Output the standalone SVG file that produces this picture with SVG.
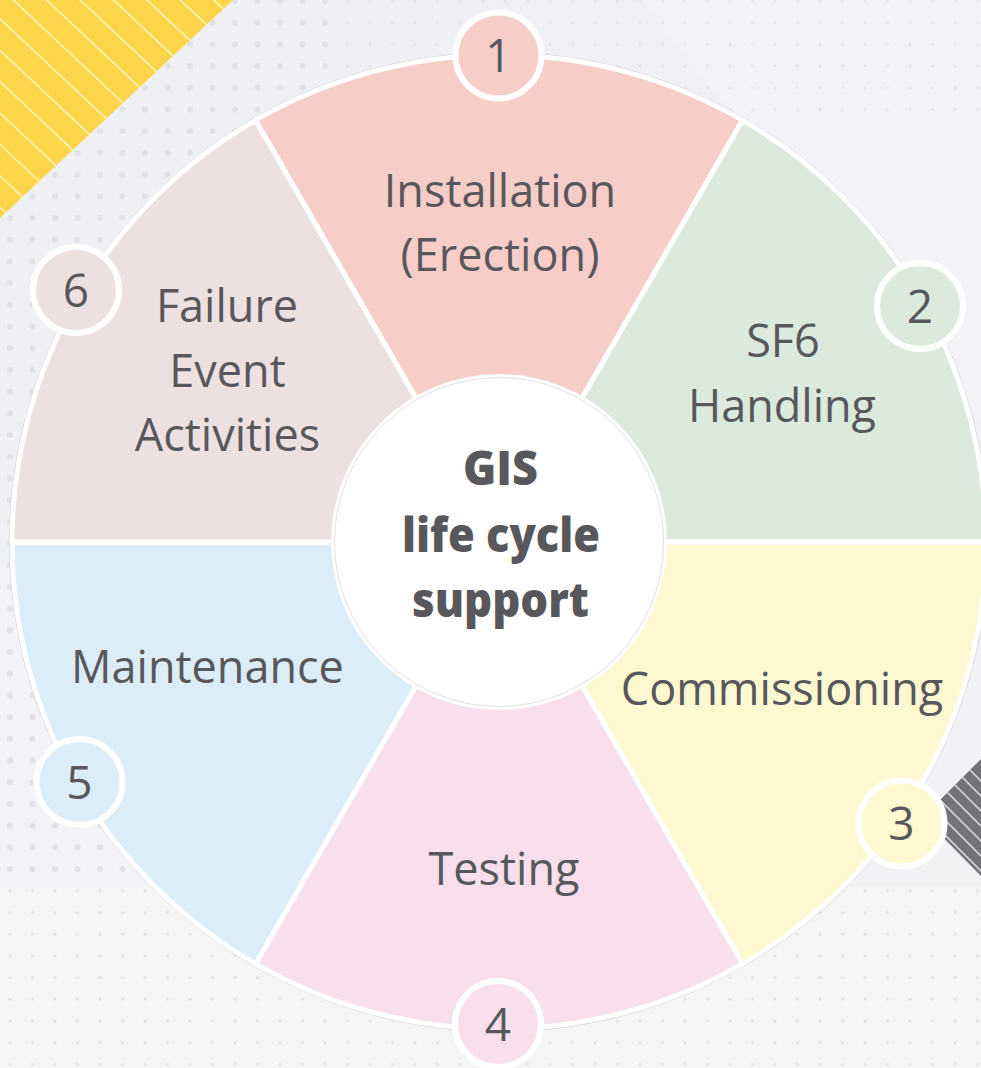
<svg xmlns="http://www.w3.org/2000/svg" width="981" height="1068" viewBox="0 0 981 1068">
  <defs>
    <style>
      .lbl{font-family:"Open Sans","DejaVu Sans",sans-serif;font-size:45px;fill:#58585c;text-anchor:middle;}
      .num{font-family:"Open Sans","DejaVu Sans",sans-serif;font-size:46px;fill:#58585c;text-anchor:middle;}
      .ctr{font-family:"Open Sans","DejaVu Sans",sans-serif;font-size:48px;font-weight:800;fill:#58585c;text-anchor:middle;}
      .sec{stroke:#ffffff;stroke-width:5;stroke-linejoin:round;}
      .badge{stroke:#ffffff;stroke-width:6;}
      .ystripe{stroke:#fff3b8;stroke-width:1.6;}
      .gstripe{stroke:#cfcfd4;stroke-width:1.6;}
    </style>
    <pattern id="dots" x="10" y="1" width="22.5" height="21.7" patternUnits="userSpaceOnUse">
      <circle cx="0" cy="0" r="3" fill="#dedee5"/>
      <circle cx="22.5" cy="0" r="3" fill="#dedee5"/>
      <circle cx="0" cy="21.7" r="3" fill="#dedee5"/>
      <circle cx="22.5" cy="21.7" r="3" fill="#dedee5"/>
    </pattern>
    <pattern id="dots2" x="10" y="1" width="22.5" height="21.7" patternUnits="userSpaceOnUse">
      <circle cx="0" cy="0" r="1.6" fill="#dcdce0"/>
      <circle cx="22.5" cy="0" r="1.6" fill="#dcdce0"/>
      <circle cx="0" cy="21.7" r="1.6" fill="#dcdce0"/>
      <circle cx="22.5" cy="21.7" r="1.6" fill="#dcdce0"/>
    </pattern>
    <clipPath id="yclip"><polygon points="0,0 233,0 0,218"/></clipPath>
    <clipPath id="gclip"><polygon points="923,817 981,759 981,876"/></clipPath>
    <linearGradient id="bg" x1="0" y1="0" x2="1" y2="1">
      <stop offset="0" stop-color="#eff0f4"/>
      <stop offset="0.5" stop-color="#f0f1f5"/>
      <stop offset="1" stop-color="#f2f2f5"/>
    </linearGradient>
  </defs>

  <!-- background -->
  <g id="background">
    <rect x="0" y="0" width="981" height="1068" fill="url(#bg)"/>
    <polygon points="640,0 981,0 981,420" fill="#ffffff" opacity="0.2"/>
    <polygon points="0,887 981,887 981,1068 0,1068" fill="#f6f6f6" opacity="0.7"/>
    <polygon points="0,560 0,887 420,887" fill="#f3f2f7"/>
    <rect x="0" y="0" width="340" height="887" fill="url(#dots)" opacity="0.85"/>
    <rect x="340" y="0" width="641" height="130" fill="url(#dots2)" opacity="0.6"/>
    <rect x="0" y="887" width="981" height="181" fill="url(#dots2)" opacity="0.8"/>
    <polygon points="0,0 233,0 0,218" fill="#fdd54a"/>
    <g clip-path="url(#yclip)">
      <line class="ystripe" x1="0" y1="-12.5" x2="300" y2="269.5"/>
      <line class="ystripe" x1="0" y1="18.9" x2="300" y2="300.9"/>
      <line class="ystripe" x1="0" y1="-43.9" x2="300" y2="238.1"/>
      <line class="ystripe" x1="0" y1="-75.3" x2="300" y2="206.7"/>
      <line class="ystripe" x1="0" y1="-106.7" x2="300" y2="175.3"/>
      <line class="ystripe" x1="0" y1="-138.1" x2="300" y2="143.9"/>
      <line class="ystripe" x1="0" y1="-169.5" x2="300" y2="112.5"/>
      <line class="ystripe" x1="0" y1="-200.9" x2="300" y2="81.1"/>
      <line class="ystripe" x1="0" y1="50.3" x2="300" y2="332.3"/>
      <line class="ystripe" x1="0" y1="81.7" x2="300" y2="363.7"/>
      <line class="ystripe" x1="0" y1="113.1" x2="300" y2="395.1"/>
      <line class="ystripe" x1="0" y1="144.5" x2="300" y2="426.5"/>
      <line class="ystripe" x1="0" y1="175.9" x2="300" y2="457.9"/>
      <line class="ystripe" x1="0" y1="207.3" x2="300" y2="489.3"/>
    </g>
    <polygon points="923,817 981,759 981,876" fill="#737377"/>
    <g clip-path="url(#gclip)">
      <line class="gstripe" x1="900" y1="700" x2="1000" y2="800"/>
      <line class="gstripe" x1="900" y1="715" x2="1000" y2="815"/>
      <line class="gstripe" x1="900" y1="730" x2="1000" y2="830"/>
      <line class="gstripe" x1="900" y1="745" x2="1000" y2="845"/>
      <line class="gstripe" x1="900" y1="760" x2="1000" y2="860"/>
      <line class="gstripe" x1="900" y1="775" x2="1000" y2="875"/>
      <line class="gstripe" x1="900" y1="790" x2="1000" y2="890"/>
      <line class="gstripe" x1="900" y1="805" x2="1000" y2="905"/>
    </g>
  </g>

  <!-- outer faint outline -->
  <circle cx="499" cy="542" r="489.5" fill="none" stroke="#c9c9ce" stroke-width="1"/>

  <g id="connectors"></g>

  <g id="sector-installation">
    <path class="sec" fill="#f7cdc7" d="M499,542 L255.5,120.2 A487,487 0 0 1 742.5,120.2 Z"/>
    <text class="lbl" x="500" y="207">Installation</text>
    <text class="lbl" x="500" y="271">(Erection)</text>
  </g>
  <g id="sector-sf6">
    <path class="sec" fill="#dce9dd" d="M499,542 L742.5,120.2 A487,487 0 0 1 986,542 Z"/>
    <text class="lbl" x="783" y="357">SF6</text>
    <text class="lbl" x="782" y="422">Handling</text>
  </g>
  <g id="sector-commissioning">
    <path class="sec" fill="#fef8d1" d="M499,542 L986,542 A487,487 0 0 1 742.5,963.8 Z"/>
    <text class="lbl" x="782" y="705">Commissioning</text>
  </g>
  <g id="sector-testing">
    <path class="sec" fill="#f8dfeb" d="M499,542 L742.5,963.8 A487,487 0 0 1 255.5,963.8 Z"/>
    <text class="lbl" x="504" y="885">Testing</text>
  </g>
  <g id="sector-maintenance">
    <path class="sec" fill="#daedf9" d="M499,542 L255.5,963.8 A487,487 0 0 1 12,542 Z"/>
    <text class="lbl" x="207.5" y="683">Maintenance</text>
  </g>
  <g id="sector-failure">
    <path class="sec" fill="#ede0e0" d="M499,542 L12,542 A487,487 0 0 1 255.5,120.2 Z"/>
    <text class="lbl" x="227" y="322">Failure</text>
    <text class="lbl" x="227.5" y="387">Event</text>
    <text class="lbl" x="227.5" y="451">Activities</text>
  </g>

  <g id="center">
    <circle cx="499" cy="542" r="168" fill="#ffffff"/>
    <circle cx="499" cy="542" r="164.5" fill="none" stroke="#e2e2e6" stroke-width="1"/>
    <text class="ctr" x="500.5" y="485" textLength="75" lengthAdjust="spacingAndGlyphs">GIS</text>
    <text class="ctr" x="501" y="552" textLength="198" lengthAdjust="spacingAndGlyphs">life cycle</text>
    <text class="ctr" x="500.5" y="617" textLength="177" lengthAdjust="spacingAndGlyphs">support</text>
  </g>

  <g id="badge-1">
    <circle class="badge" cx="498.5" cy="55.5" r="43" fill="#f7cdc7"/>
    <text class="num" x="498.5" y="72">1</text>
  </g>
  <g id="badge-2">
    <circle class="badge" cx="920" cy="306" r="43" fill="#dce9dd"/>
    <text class="num" x="920" y="323">2</text>
  </g>
  <g id="badge-3">
    <circle class="badge" cx="901.5" cy="823.5" r="43" fill="#fef8d1"/>
    <text class="num" x="901.5" y="840">3</text>
  </g>
  <g id="badge-4">
    <circle class="badge" cx="498" cy="1024" r="43" fill="#f8dfeb"/>
    <text class="num" x="498" y="1041">4</text>
  </g>
  <g id="badge-5">
    <circle class="badge" cx="79.5" cy="782" r="43" fill="#daedf9"/>
    <text class="num" x="79.5" y="799">5</text>
  </g>
  <g id="badge-6">
    <circle class="badge" cx="76" cy="290" r="43" fill="#ede0e0"/>
    <text class="num" x="76" y="307">6</text>
  </g>
</svg>
